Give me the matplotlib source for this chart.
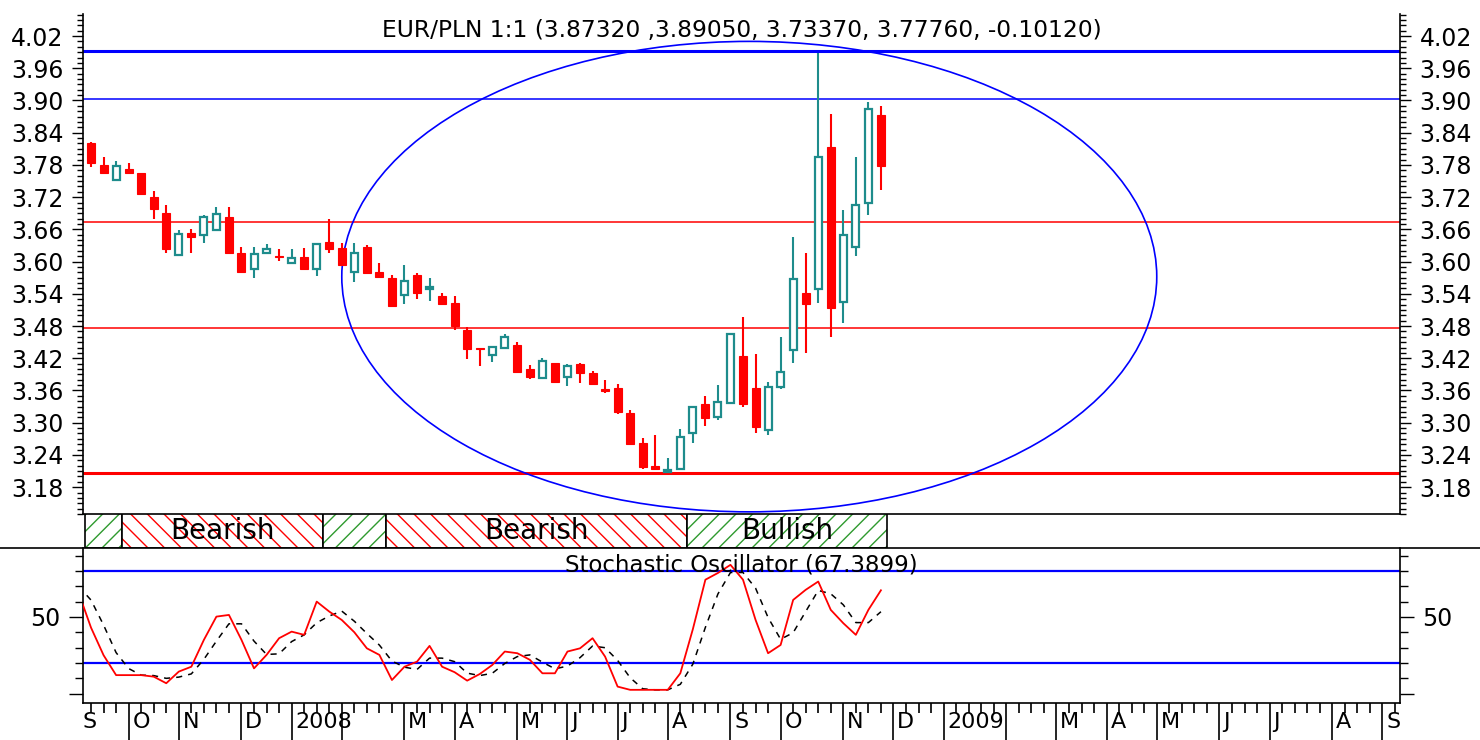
"""Weekly EUR/PLN candlestick chart with stochastic oscillator panel."""

import matplotlib

matplotlib.use("Agg")
import matplotlib.pyplot as plt
import numpy as np
from matplotlib.lines import Line2D
from matplotlib.patches import Ellipse, Rectangle
from matplotlib.ticker import FixedLocator, MultipleLocator, NullFormatter
from matplotlib.transforms import Bbox, TransformedBbox

# weekly bars, index 0 = first visible week (Sep 2007)
OPEN = [3.821, 3.780, 3.752, 3.772, 3.765, 3.720, 3.690, 3.612, 3.653, 3.649,
        3.659, 3.683, 3.616, 3.586, 3.616, 3.610, 3.597, 3.608, 3.586, 3.636,
        3.625, 3.580, 3.627, 3.580, 3.569, 3.538, 3.575, 3.549, 3.536, 3.523,
        3.473, 3.439, 3.426, 3.439, 3.445, 3.400, 3.383, 3.411, 3.385, 3.409,
        3.392, 3.361, 3.364, 3.318, 3.262, 3.219, 3.208, 3.214, 3.281, 3.335,
        3.311, 3.337, 3.424, 3.364, 3.286, 3.366, 3.435, 3.541, 3.549, 3.813,
        3.525, 3.627, 3.709, 3.8732]
HIGH = [3.823, 3.795, 3.787, 3.783, 3.765, 3.731, 3.705, 3.659, 3.661, 3.687,
        3.702, 3.702, 3.627, 3.627, 3.633, 3.623, 3.623, 3.625, 3.635, 3.679,
        3.635, 3.635, 3.631, 3.597, 3.575, 3.594, 3.579, 3.569, 3.541, 3.536,
        3.478, 3.439, 3.443, 3.465, 3.450, 3.407, 3.420, 3.411, 3.409, 3.411,
        3.396, 3.379, 3.372, 3.323, 3.271, 3.277, 3.234, 3.288, 3.329, 3.350,
        3.370, 3.465, 3.497, 3.428, 3.376, 3.459, 3.646, 3.616, 3.988, 3.875,
        3.696, 3.795, 3.897, 3.8905]
LOW = [3.776, 3.765, 3.752, 3.765, 3.726, 3.679, 3.616, 3.610, 3.616, 3.635,
       3.659, 3.616, 3.579, 3.569, 3.616, 3.601, 3.595, 3.586, 3.573, 3.616,
       3.592, 3.562, 3.578, 3.569, 3.517, 3.521, 3.530, 3.527, 3.521, 3.473,
       3.419, 3.405, 3.413, 3.439, 3.392, 3.381, 3.381, 3.374, 3.368, 3.374,
       3.372, 3.355, 3.316, 3.260, 3.214, 3.214, 3.206, 3.214, 3.262, 3.294,
       3.305, 3.337, 3.329, 3.281, 3.277, 3.363, 3.411, 3.430, 3.523, 3.459,
       3.486, 3.610, 3.687, 3.7337]
CLOSE = [3.783, 3.765, 3.778, 3.765, 3.726, 3.698, 3.623, 3.651, 3.646, 3.683,
         3.689, 3.616, 3.580, 3.614, 3.623, 3.608, 3.606, 3.586, 3.633, 3.623,
         3.593, 3.616, 3.579, 3.571, 3.517, 3.564, 3.541, 3.551, 3.521, 3.480,
         3.437, 3.437, 3.441, 3.459, 3.394, 3.385, 3.415, 3.376, 3.405, 3.392,
         3.372, 3.359, 3.320, 3.260, 3.217, 3.214, 3.212, 3.273, 3.329, 3.309,
         3.338, 3.465, 3.335, 3.292, 3.366, 3.394, 3.567, 3.521, 3.795, 3.513,
         3.649, 3.705, 3.884, 3.7776]

# stochastic oscillator, starts one week before the first visible bar
STOCH_K = [66, 43, 25, 12, 12, 12, 11, 6.7, 14.3, 17.5, 35, 50.2, 51.3, 35,
           16.4, 25.2, 36.1, 40.4, 38.3, 60, 53.5, 48, 40, 29.5, 25.2, 8.8,
           17.5, 20.8, 31.1, 17.5, 13.9, 8.4, 12.7, 18.6, 27.4, 26.3, 22,
           13.2, 13.2, 27.4, 29.5, 36.1, 24.1, 4.5, 2.4, 2.4, 2.4, 2.4, 13.2,
           42, 74.3, 78.7, 84, 74.3, 48.1, 26.3, 31.7, 61.1, 67.7, 73.1, 54.6,
           45.9, 38.3, 54.6, 67.39]
STOCH_D = [70, 61, 44.7, 26.7, 16.3, 12, 11.7, 9.9, 10.7, 12.8, 22.3, 34.2,
           45.5, 45.5, 34.2, 25.5, 25.9, 33.9, 38.3, 46.2, 50.6, 53.8, 47.2,
           39.2, 31.6, 21.2, 17.2, 15.7, 23.1, 23.1, 20.8, 13.3, 11.7, 13.2,
           19.6, 24.1, 25.2, 20.5, 16.1, 17.9, 23.4, 31, 29.9, 21.6, 10.3, 3.1,
           2.4, 2.4, 6, 19.2, 43.2, 65, 79, 79, 68.8, 49.6, 35.4, 39.7, 53.5,
           67.3, 65.1, 57.9, 46.3, 46.3, 53.4]
STOCH_LEVELS = [80, 20]

BLUE_LEVELS = [3.992, 3.9025]
RED_LEVELS = [3.673, 3.476, 3.206]

# (first bar, last bar, trend, label)
REGIMES = [(0, 2, "bull", ""), (3, 18, "bear", "Bearish"), (19, 23, "bull", ""),
           (24, 47, "bear", "Bearish"), (48, 63, "bull", "Bullish")]

MONTH_TICKS = [-1, 3, 7, 12, 16, 20, 25, 29, 34, 38, 42, 46, 51, 55, 60, 64,
               68, 73, 77, 81, 85, 90, 94, 99, 103]
MONTH_LABELS = ["S", "O", "N", "D", "2008", "", "M", "A", "M", "J", "J", "A",
                "S", "O", "N", "D", "2009", "", "M", "A", "M", "J", "J", "A", "S"]

TITLE = "EUR/PLN 1:1 (3.87320 ,3.89050, 3.73370, 3.77760, -0.10120)"
STOCH_TITLE = "Stochastic Oscillator (67.3899)"

RED = "#ff0000"
TEAL = "#1e8c8c"
BLUE = "#0000ff"
GREEN = "#2e9a2e"

W, H = 1480, 740
XMIN, XMAX = -0.64, 104.4


def frame(x0, y0, x1, y1):
    return [x0 / W, 1 - y1 / H, (x1 - x0) / W, (y1 - y0) / H]


plt.rcParams["font.family"] = "DejaVu Sans"
plt.rcParams["hatch.linewidth"] = 1.0

fig = plt.figure(figsize=(W / 100, H / 100), dpi=100)
ax = fig.add_axes(frame(83, 14, 1400, 514))
band = fig.add_axes(frame(83, 514, 1400, 548))
sto = fig.add_axes(frame(83, 548, 1400, 703))

# ---- price panel
idx = np.arange(len(OPEN))
o, h, l, c = (np.array(v) for v in (OPEN, HIGH, LOW, CLOSE))
up = c >= o
ax.vlines(idx, l, h, colors=np.where(up, TEAL, RED), lw=1.5, zorder=3)
body_low = np.minimum(o, c)
body_h = np.maximum(np.abs(c - o), 0.003)
ax.bar(idx[~up], body_h[~up], bottom=body_low[~up], width=0.64,
       color=RED, edgecolor=RED, lw=0.8, zorder=4)
ax.bar(idx[up], body_h[up], bottom=body_low[up], width=0.56,
       facecolor="white", edgecolor=TEAL, lw=1.6, zorder=4)

ax.axhline(BLUE_LEVELS[0], color=BLUE, lw=2.2, zorder=2)
ax.axhline(BLUE_LEVELS[1], color=BLUE, lw=1.1, zorder=2)
ax.axhline(RED_LEVELS[0], color=RED, lw=1.1, zorder=2)
ax.axhline(RED_LEVELS[1], color=RED, lw=1.1, zorder=2)
ax.axhline(RED_LEVELS[2], color=RED, lw=2.2, zorder=2)
ax.add_patch(Ellipse((52.5, 3.572), 65, 0.876, fill=False, edgecolor=BLUE,
                     lw=1.2, zorder=2))

ax.set_xlim(XMIN, XMAX)
ax.set_ylim(3.130, 4.061)
ax.yaxis.set_major_locator(FixedLocator(np.round(np.arange(3.18, 4.03, 0.06), 2)))
ax.yaxis.set_major_formatter(plt.FormatStrFormatter("%.2f"))
ax.yaxis.set_minor_locator(MultipleLocator(0.01))
ax.tick_params(axis="y", which="both", left=True, right=True, labelleft=True,
               labelright=True, direction="out", width=1, labelsize=17, pad=6)
ax.tick_params(axis="y", which="major", length=8)
ax.tick_params(axis="y", which="minor", length=4)
ax.tick_params(axis="x", which="both", bottom=False, labelbottom=False)
ax.spines["top"].set_visible(False)
for s in ("left", "right", "bottom"):
    ax.spines[s].set_linewidth(1.2)
ax.text(0.5, 0.968, TITLE, transform=ax.transAxes, ha="center", va="center",
        fontsize=16.8)

# ---- trend band
band.set_xlim(XMIN, XMAX)
band.set_ylim(0, 1)
band.axis("off")
for first, last, trend, label in REGIMES:
    color, hatch = (GREEN, "//") if trend == "bull" else (RED, "\\\\")
    x0 = max(first - 0.5, XMIN)
    x1 = last + 0.5
    band.add_patch(Rectangle((x0, 0), x1 - x0, 1, facecolor="white",
                             edgecolor=color, hatch=hatch, lw=0))
    band.add_patch(Rectangle((x0, 0), x1 - x0, 1, fill=False,
                             edgecolor="black", lw=1.2))
    if label:
        band.text((x0 + x1) / 2, 0.5, label, ha="center", va="center",
                  fontsize=20)

# ---- stochastic panel
sx = np.arange(len(STOCH_K)) - 1
sto.plot(sx, STOCH_D, color="black", lw=1.1, ls=(0, (4, 4)), zorder=3)
sto.plot(sx, STOCH_K, color=RED, lw=1.3, zorder=4)
for lvl in STOCH_LEVELS:
    sto.axhline(lvl, color=BLUE, lw=1.6, zorder=2)
sto.set_xlim(XMIN, XMAX)
sto.set_ylim(-6.2, 95)
sto.yaxis.set_major_locator(FixedLocator([0, 50]))
sto.yaxis.set_major_formatter(plt.FuncFormatter(lambda v, p: "50" if v == 50 else ""))
sto.yaxis.set_minor_locator(MultipleLocator(10))
sto.tick_params(axis="y", which="both", left=True, right=True, labelleft=True,
                labelright=True, direction="out", width=1, labelsize=17, pad=6)
sto.tick_params(axis="y", which="major", length=10)
sto.tick_params(axis="y", which="minor", length=6)
sto.spines["top"].set_visible(False)
for s in ("left", "right", "bottom"):
    sto.spines[s].set_linewidth(1.2)
sto.text(0.5, 0.89, STOCH_TITLE, transform=sto.transAxes, ha="center",
         va="center", fontsize=16.5, zorder=5)

sto.xaxis.set_major_locator(FixedLocator(MONTH_TICKS))
sto.xaxis.set_minor_locator(MultipleLocator(1))
sto.xaxis.set_major_formatter(NullFormatter())
sto.tick_params(axis="x", which="major", length=28, width=1.2, direction="out")
sto.tick_params(axis="x", which="minor", length=7, width=1.2, direction="out")

# month labels sit right of their tick; anything left of the axis is cut off
clip = TransformedBbox(Bbox([[84 / W, 0], [1400 / W, 1]]), fig.transFigure)
to_fig = sto.transData + fig.transFigure.inverted()
label_y = 1 - 722 / H
for pos, label in zip(MONTH_TICKS, MONTH_LABELS):
    if label:
        fx = to_fig.transform((pos + 0.3, 0))[0]
        t = fig.text(fx, label_y, label, ha="left", va="center", fontsize=16)
        t.set_clip_on(True)
        t.set_clip_box(clip)

# full-width separator between band and oscillator
fig.add_artist(Line2D([0, 1], [1 - 548 / H] * 2, transform=fig.transFigure,
                      color="black", lw=1.2))

fig.savefig("out.png", dpi=100)
